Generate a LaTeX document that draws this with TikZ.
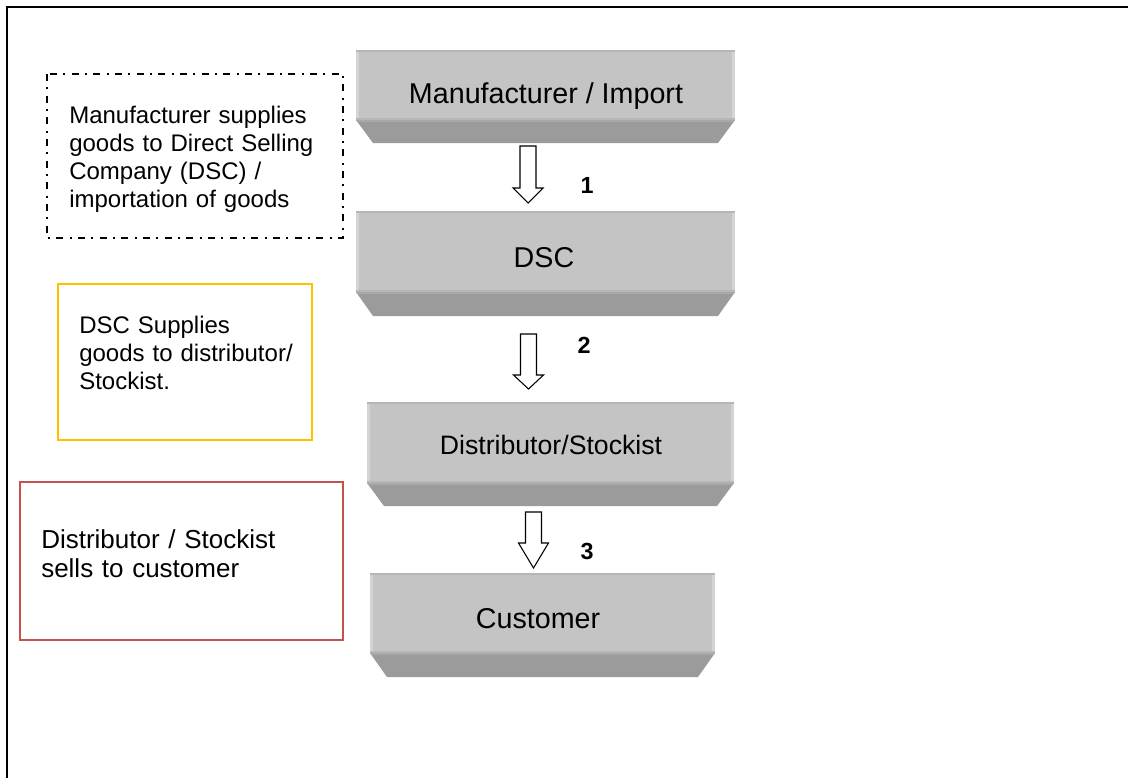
\documentclass[tikz,border=0pt]{standalone}
\usepackage{fontspec}
\setmainfont{Liberation Sans}
\usetikzlibrary{calc}

\definecolor{facegray}{HTML}{C4C4C4}
\definecolor{facelight}{HTML}{D4D4D4}
\definecolor{faceedge}{HTML}{B6B6B6}
\definecolor{bevelgray}{HTML}{9B9B9B}
\definecolor{bevellight}{HTML}{A8A8A8}
\definecolor{notegold}{HTML}{FFC000}
\definecolor{notered}{HTML}{C8504D}

% one stage of the chain: a grey slab with a bevelled bottom edge
% #1 name, #2 left, #3 top, #4 right, #5 face bottom, #6 bevel bottom
\newcommand\stageslab[6]{%
  \coordinate (#1-nw) at (#2,#3);
  \coordinate (#1-se) at (#4,#5);
  \fill[bevelgray] (#2,#5) -- (#4,#5) -- (#4-17,#6) -- (#2+17,#6) -- cycle;
  \fill[bevellight] (#2,#5) -- (#4,#5) -- (#4-1.5,#5+2) -- (#2+1.5,#5+2) -- cycle;
  \fill[facegray] (#1-nw) rectangle (#1-se);
  \fill[facelight] (#2,#3) rectangle (#2+3,#5);
  \fill[facelight] (#4-3,#3) rectangle (#4,#5);
  \fill[faceedge] (#2,#3) rectangle (#4,#3+1.5);
  \fill[faceedge] (#2,#5-2) rectangle (#4,#5);
}

% hollow block arrow pointing down
% #1 name, #2 centre x, #3 top, #4 start of head, #5 tip
\newcommand\downblock[5]{%
  \coordinate (#1) at (#2,#3);
  \draw[hollowarrow] (#2-8,#3) -- (#2+8,#3) -- (#2+8,#4) -- (#2+15,#4)
    -- (#2,#5) -- (#2-15,#4) -- (#2-8,#4) -- cycle;
}

\begin{document}
\begin{tikzpicture}[x=0.75pt,y=-0.75pt,
  stagetext/.style={font=\fontsize{21.5}{25}\selectfont, inner sep=0pt, anchor=base},
  steplabel/.style={font=\bfseries\fontsize{17.5}{20}\selectfont, inner sep=0pt},
  notetext/.style={font=\fontsize{18}{21}\selectfont, inner sep=0pt, anchor=base west,
    text width=240pt, align=left},
  hollowarrow/.style={draw=black, fill=white, line width=0.8pt, line join=miter},
  dashdotframe/.style={draw=black, line width=1.1pt,
    dash pattern=on 5.25pt off 4.75pt on 1.5pt off 4.75pt},
  goldframe/.style={draw=notegold, line width=1.2pt},
  redframe/.style={draw=notered, line width=0.8pt}]

\fill[white] (0,0) rectangle (1130,778);
\useasboundingbox (0,0) rectangle (1130,778);

% page frame: only its top and left sides fall on the page
\coordinate (frame-ne) at (1128,6.5);
\coordinate (frame-nw) at (6.5,6.5);
\coordinate (frame-sw) at (6.5,778);
\draw[line width=1.5pt, line cap=butt] (frame-ne) -- (frame-nw) -- (frame-sw);

% stages
\stageslab{s1}{356}{50}{735}{120}{143}
\node[stagetext] (import) at (546,103) {Manufacturer / Import};

\stageslab{s2}{356}{211}{735}{292}{316}
\node[stagetext] (dsc) at (544,267) {DSC};

\stageslab{s3}{367}{402}{734}{483}{506}
\node[stagetext, font=\fontsize{20}{24}\selectfont] (stockist) at (551,454) {Distributor/Stockist};

\stageslab{s4}{370}{573}{715}{653}{677}
\node[stagetext] (customer) at (538,628) {Customer};

% flow arrows with step numbers
\downblock{a1}{528}{146}{188}{203}
\node[steplabel] (n1) at (587,185) {1};

\downblock{a2}{528.5}{334}{375}{389}
\node[steplabel] (n2) at (584,345) {2};

\downblock{a3}{533.5}{512}{543}{568}
\node[steplabel] (n3) at (587,551) {3};

% explanatory notes
\draw[dashdotframe] (47,74) rectangle (343,238);
\node[notetext] (note1) at (69,123)
  {Manufacturer supplies\\goods to Direct Selling\\Company (DSC) /\\importation of goods};

\draw[goldframe] (58,284) rectangle (312,440);
\node[notetext] (note2) at (79,333)
  {DSC Supplies\\goods to distributor/\\Stockist.};

\draw[redframe] (20,482) rectangle (343,640);
\node[notetext, font=\fontsize{19.5}{21.75}\selectfont] (note3) at (41,548)
  {Distributor / Stockist\\sells to customer};

\end{tikzpicture}
\end{document}
